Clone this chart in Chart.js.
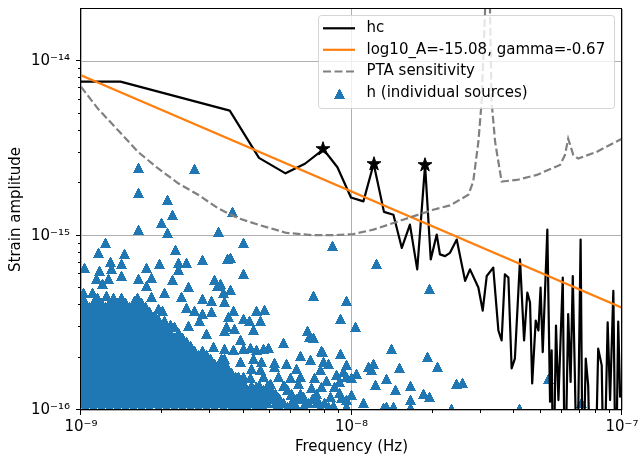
<!DOCTYPE html>
<html>
<head>
<meta charset="utf-8">
<script src="https://cdn.jsdelivr.net/npm/chart.js@4.4.1/dist/chart.umd.min.js"></script>
<style>
  html, body { margin: 0; padding: 0; background: #fff; }
</style>
</head>
<body>
<canvas id="myChart" width="639" height="458"></canvas>
<script>
// all values are log10 (frequency in Hz, strain amplitude)

// characteristic strain hc (black line); -16.5 = empty bin, drawn off the bottom
var hcLogF = [-9.000,-8.854,-8.450,-8.342,-8.244,-8.172,-8.104,-8.052,-8.002,-7.956,
  -7.918,-7.880,-7.845,-7.814,-7.784,-7.757,-7.728,-7.707,-7.685,-7.673,
  -7.654,-7.636,-7.611,-7.580,-7.562,-7.531,-7.515,-7.500,-7.476,-7.457,
  -7.445,-7.433,-7.420,-7.408,-7.396,-7.377,-7.362,-7.350,-7.340,-7.332,
  -7.319,-7.309,-7.301,-7.293,-7.276,-7.266,-7.260,-7.254,-7.244,-7.235,
  -7.219,-7.211,-7.199,-7.190,-7.182,-7.174,-7.166,-7.153,-7.145,-7.134,
  -7.125,-7.116,-7.100,-7.088,-7.075,-7.067,-7.053,-7.044,-7.032,-7.023,
  -7.014,-7.007,-7.000];
var hcLogH = [-14.116,-14.116,-14.282,-14.553,-14.642,-14.587,-14.504,-14.607,-14.781,-14.803,
  -14.587,-14.863,-14.880,-15.070,-14.936,-15.193,-14.595,-15.136,-14.993,-15.107,
  -15.117,-15.098,-15.022,-15.259,-15.193,-15.297,-15.430,-15.231,-15.183,-15.544,
  -15.601,-15.221,-15.240,-15.762,-15.705,-15.136,-15.601,-15.326,-15.383,-15.848,
  -15.487,-15.544,-15.297,-15.668,-14.965,-15.953,-15.658,-16.5,-15.516,-15.943,
  -15.240,-16.5,-15.449,-15.839,-15.231,-15.818,-16.5,-15.022,-16.5,-15.705,
  -15.858,-16.5,-16.5,-15.648,-15.744,-16.5,-15.497,-15.943,-15.316,-16.5,
  -15.493,-15.924,-15.915];

// the three starred bins
var starLogF = [-8.104, -7.918, -7.728];
var starLogH = [-14.504, -14.587, -14.595];

// power law fit, end points
var fitLogF = [-9.0, -7.0];
var fitLogH = [-14.079, -15.413];

// PTA sensitivity curve
var ptaLogF = [-9.000,-8.937,-8.863,-8.789,-8.715,-8.641,-8.567,-8.494,-8.420,-8.346,
  -8.240,-8.141,-8.067,-7.993,-7.919,-7.845,-7.772,-7.698,-7.636,-7.568,
  -7.550,-7.531,-7.519,-7.506,-7.497,-7.488,-7.482,-7.469,-7.445,-7.389,
  -7.315,-7.229,-7.211,-7.199,-7.180,-7.162,-7.094,-7.000];
var ptaLogH = [-14.145,-14.272,-14.395,-14.519,-14.614,-14.699,-14.765,-14.842,-14.899,-14.936,
  -14.984,-14.997,-14.997,-14.990,-14.965,-14.927,-14.889,-14.851,-14.826,-14.765,
  -14.689,-14.462,-14.234,-13.702,-13.300,-13.702,-14.234,-14.462,-14.689,-14.680,
  -14.651,-14.594,-14.537,-14.443,-14.537,-14.557,-14.519,-14.443];

// individual sources, the scattered ones: [log f, log h]
var sourcesLog = [
  [-8.789,-14.614],[-8.579,-14.618],[-8.789,-14.756],[-8.680,-14.795],[-8.660,-14.883],
  [-8.701,-14.927],[-8.440,-14.864],[-8.789,-14.969],[-8.681,-14.983],[-8.490,-14.980],
  [-8.910,-15.043],[-8.400,-15.043],[-8.937,-15.098],[-8.838,-15.104],[-8.651,-15.083],
  [-8.986,-15.183],[-8.890,-15.149],[-8.851,-15.161],[-8.709,-15.161],[-8.641,-15.155],
  [-8.611,-15.155],[-8.549,-15.141],[-8.459,-15.136],[-8.931,-15.202],[-8.888,-15.193],
  [-8.759,-15.183],[-8.641,-15.198],[-8.943,-15.250],[-8.900,-15.250],[-8.851,-15.231],
  [-8.789,-15.250],[-8.740,-15.240],[-8.660,-15.255],[-8.506,-15.255],[-8.919,-15.275],
  [-8.759,-15.288],[-8.604,-15.293],[-8.494,-15.288],[-8.989,-15.326],[-8.956,-15.326],
  [-8.691,-15.326],[-8.475,-15.326],[-8.906,-15.345],[-8.740,-15.350],[-8.629,-15.350],
  [-8.549,-15.364],[-8.518,-15.373],[-8.469,-15.383],[-8.801,-15.373],[-8.715,-15.421],
  [-8.697,-15.430],[-8.611,-15.415],[-8.580,-15.430],[-8.549,-15.449],[-8.518,-15.440],
  [-8.746,-15.487],[-8.691,-15.487],[-8.654,-15.525],[-8.604,-15.516],[-8.561,-15.487],
  [-8.537,-15.563],[-8.641,-15.563],[-8.469,-15.544],[-8.512,-15.639],[-8.469,-15.648],
  [-8.555,-15.696],[-8.481,-15.705],[-8.666,-15.620],[-8.617,-15.630],[-8.449,-15.126],
  [-8.400,-15.218],[-8.486,-15.278],[-8.449,-15.312],[-8.069,-15.060],[-8.141,-15.345],
  [-8.020,-15.373],[-8.437,-15.430],[-8.350,-15.430],[-8.320,-15.426],[-8.040,-15.477],
  [-8.455,-15.468],[-8.400,-15.477],[-8.378,-15.487],[-8.338,-15.491],[-7.987,-15.525],
  [-8.431,-15.534],[-8.461,-15.525],[-8.363,-15.540],[-8.163,-15.544],[-8.156,-15.582],
  [-8.141,-15.586],[-8.410,-15.597],[-8.252,-15.617],[-7.909,-15.164],[-7.712,-15.307],
  [-8.106,-15.668],[-7.851,-15.648],[-7.720,-15.698],[-7.683,-15.755],[-7.821,-15.761],
  [-7.938,-15.753],[-7.919,-15.734],[-7.925,-15.772],[-8.030,-15.782],[-8.018,-15.810],
  [-7.981,-15.791],[-7.870,-15.823],[-7.913,-15.858],[-7.839,-15.883],[-7.781,-15.863],
  [-7.781,-15.940],[-7.735,-15.909],[-7.712,-15.928],[-7.611,-15.848],[-7.589,-15.844],
  [-7.956,-15.962],[-8.043,-15.905],[-8.018,-15.943],[-7.870,-15.981],[-7.845,-15.985],
  [-7.882,-15.990],[-7.781,-15.991],[-7.630,-15.997],[-7.272,-15.823],[-7.149,-15.960],
  [-7.379,-15.994],[-8.086,-15.734],
  [-8.468,-15.648],[-8.437,-15.658],[-8.400,-15.648],[-8.375,-15.643],[-8.350,-15.654],
  [-8.326,-15.648],[-8.308,-15.643],[-8.110,-15.662],[-8.039,-15.677],[-8.468,-15.705],
  [-8.412,-15.725],[-8.363,-15.705],[-8.332,-15.725],[-8.283,-15.730],[-8.240,-15.734],
  [-8.190,-15.692],[-8.153,-15.715],[-8.104,-15.725],[-8.018,-15.744],[-8.369,-15.762],
  [-8.338,-15.772],[-8.283,-15.753],[-8.203,-15.762],[-8.116,-15.772],[-8.055,-15.801],
  [-8.461,-15.791],[-8.418,-15.810],[-8.375,-15.819],[-8.326,-15.810],[-8.271,-15.810],
  [-8.227,-15.819],[-8.190,-15.810],[-8.135,-15.819],[-8.092,-15.833],[-8.043,-15.839],
  [-7.999,-15.819],[-8.449,-15.858],[-8.394,-15.858],[-8.350,-15.867],[-8.301,-15.848],
  [-8.246,-15.863],[-8.197,-15.848],[-8.147,-15.876],[-8.110,-15.867],[-8.061,-15.867],
  [-8.461,-15.915],[-8.412,-15.915],[-8.363,-15.924],[-8.313,-15.915],[-8.271,-15.933],
  [-8.221,-15.915],[-8.178,-15.924],[-8.129,-15.933],[-8.079,-15.924],[-8.036,-15.933],
  [-7.999,-15.915],[-8.437,-15.981],[-8.387,-15.981],[-8.338,-15.977],[-8.277,-15.981],
  [-8.227,-15.985],[-8.178,-15.981],[-8.116,-15.981],[-8.067,-15.977],[-8.018,-15.981]
];

// the solid part of the cloud at low frequency: [log h, [log f ...]]
var sourceRowsLog = [
  [-15.360, [-9.00,-8.94,-8.88,-8.85,-8.79]],
  [-15.385, [-8.985,-8.955,-8.925,-8.895,-8.865,-8.835,-8.805,-8.775]],
  [-15.410, [-9.00,-8.97,-8.94,-8.91,-8.88,-8.85,-8.82,-8.79,-8.76]],
  [-15.435, [-8.985,-8.955,-8.925,-8.895,-8.865,-8.835,-8.805,-8.775,-8.745]],
  [-15.460, [-9.00,-8.97,-8.94,-8.91,-8.88,-8.85,-8.82,-8.79,-8.76,-8.73]],
  [-15.485, [-8.985,-8.955,-8.925,-8.895,-8.865,-8.835,-8.805,-8.775,-8.745,-8.715]],
  [-15.510, [-9.00,-8.97,-8.94,-8.91,-8.88,-8.85,-8.82,-8.79,-8.76,-8.73,-8.70,-8.67]],
  [-15.535, [-8.985,-8.955,-8.925,-8.895,-8.865,-8.835,-8.805,-8.775,-8.745,-8.715,-8.685]],
  [-15.560, [-9.00,-8.97,-8.94,-8.91,-8.88,-8.85,-8.82,-8.79,-8.76,-8.73,-8.70,-8.67,-8.64]],
  [-15.585, [-8.985,-8.955,-8.925,-8.895,-8.865,-8.835,-8.805,-8.775,-8.745,-8.715,-8.685,-8.655,-8.625]],
  [-15.610, [-9.00,-8.97,-8.94,-8.91,-8.88,-8.85,-8.82,-8.79,-8.76,-8.73,-8.70,-8.67,-8.64,-8.61]],
  [-15.635, [-8.985,-8.955,-8.925,-8.895,-8.865,-8.835,-8.805,-8.775,-8.745,-8.715,-8.685,-8.655,-8.625,-8.595]],
  [-15.660, [-9.00,-8.97,-8.94,-8.91,-8.88,-8.85,-8.82,-8.79,-8.76,-8.73,-8.70,-8.67,-8.64,-8.61,-8.58,-8.55]],
  [-15.685, [-8.985,-8.955,-8.925,-8.895,-8.865,-8.835,-8.805,-8.775,-8.745,-8.715,-8.685,-8.655,-8.625,-8.595,-8.565,-8.535]],
  [-15.710, [-9.00,-8.97,-8.94,-8.91,-8.88,-8.85,-8.82,-8.79,-8.76,-8.73,-8.70,-8.67,-8.64,-8.61,-8.58,-8.55,-8.52]],
  [-15.735, [-8.985,-8.955,-8.925,-8.895,-8.865,-8.835,-8.805,-8.775,-8.745,-8.715,-8.685,-8.655,-8.625,-8.595,-8.565,-8.535,-8.505,-8.475]],
  [-15.760, [-9.00,-8.97,-8.94,-8.91,-8.88,-8.85,-8.82,-8.79,-8.76,-8.73,-8.70,-8.67,-8.64,-8.61,-8.58,-8.55,-8.52,-8.49,-8.46]],
  [-15.785, [-8.985,-8.955,-8.925,-8.895,-8.865,-8.835,-8.805,-8.775,-8.745,-8.715,-8.685,-8.655,-8.625,-8.595,-8.565,-8.535,-8.505,-8.475,-8.445]],
  [-15.810, [-9.00,-8.97,-8.94,-8.91,-8.88,-8.85,-8.82,-8.79,-8.76,-8.73,-8.70,-8.67,-8.64,-8.61,-8.58,-8.55,-8.52,-8.49,-8.46,-8.43,-8.40]],
  [-15.835, [-8.985,-8.955,-8.925,-8.895,-8.865,-8.835,-8.805,-8.775,-8.745,-8.715,-8.685,-8.655,-8.625,-8.595,-8.565,-8.535,-8.505,-8.475,-8.445,-8.415]],
  [-15.860, [-9.00,-8.97,-8.94,-8.91,-8.88,-8.85,-8.82,-8.79,-8.76,-8.73,-8.70,-8.67,-8.64,-8.61,-8.58,-8.55,-8.52,-8.49,-8.46,-8.43,-8.40,-8.37,-8.34,-8.31,-8.25]],
  [-15.885, [-8.985,-8.955,-8.925,-8.895,-8.865,-8.835,-8.805,-8.775,-8.745,-8.715,-8.685,-8.655,-8.625,-8.595,-8.565,-8.535,-8.505,-8.475,-8.445,-8.415,-8.385,-8.355,-8.325,-8.295,-8.235]],
  [-15.910, [-9.00,-8.97,-8.94,-8.91,-8.88,-8.85,-8.82,-8.79,-8.76,-8.73,-8.70,-8.67,-8.64,-8.61,-8.58,-8.55,-8.52,-8.49,-8.46,-8.43,-8.40,-8.37,-8.34,-8.31,-8.28,-8.22,-8.19,-8.13]],
  [-15.935, [-8.985,-8.955,-8.925,-8.895,-8.865,-8.835,-8.805,-8.775,-8.745,-8.715,-8.685,-8.655,-8.625,-8.595,-8.565,-8.535,-8.505,-8.475,-8.445,-8.415,-8.385,-8.355,-8.325,-8.295,-8.265,-8.205,-8.175,-8.145]],
  [-15.960, [-9.00,-8.97,-8.94,-8.91,-8.88,-8.85,-8.82,-8.79,-8.76,-8.73,-8.70,-8.67,-8.64,-8.61,-8.58,-8.55,-8.52,-8.49,-8.46,-8.43,-8.40,-8.37,-8.34,-8.31,-8.28,-8.25,-8.22,-8.16,-8.13,-8.10]],
  [-15.985, [-8.985,-8.955,-8.925,-8.895,-8.865,-8.835,-8.805,-8.775,-8.745,-8.715,-8.685,-8.655,-8.625,-8.595,-8.565,-8.535,-8.505,-8.475,-8.445,-8.415,-8.385,-8.355,-8.325,-8.265,-8.235,-8.205,-8.175,-8.115,-8.085]]
];

var xMajorTicks = [1e-9, 1e-8, 1e-7];
var yMajorTicks = [1e-16, 1e-15, 1e-14];
var labels = ['hc', 'log10_A=-15.08, gamma=-0.67', 'PTA sensitivity', 'h (individual sources)'];

var FONT = "'DejaVu Sans', sans-serif";
Chart.defaults.font.family = FONT;
Chart.defaults.font.size = 15;
Chart.defaults.color = '#000';

var toPoints = (lf, lh) => lf.map((f, i) => ({x: Math.pow(10, f), y: Math.pow(10, lh[i])}));
var sourcePoints = sourcesLog.map(p => ({x: Math.pow(10, p[0]), y: Math.pow(10, p[1])}))
  .concat(sourceRowsLog.flatMap(r => r[1].map(f => ({x: Math.pow(10, f), y: Math.pow(10, r[0])}))));

// marker images (matplotlib-like ^ and *); the triangle is pixel-exact so
// overlapping markers merge into a solid area like in the original
function triangleImg() {
  var c = document.createElement('canvas');
  c.width = 11; c.height = 10;
  var g = c.getContext('2d');
  g.fillStyle = '#1f77b4';
  for (var y = 0; y < 10; y++) {
    var w = 2 * Math.floor((y + 1) / 2) + 1;
    g.fillRect((11 - w) / 2, y, w, 1);
  }
  return c;
}
function starImg() {
  var c = document.createElement('canvas');
  c.width = 18; c.height = 18;
  var g = c.getContext('2d');
  var R = 7.3, r = R * 0.382;
  g.beginPath();
  for (var i = 0; i < 10; i++) {
    var a = -Math.PI / 2 + i * Math.PI / 5, rr = i % 2 ? r : R;
    g.lineTo(9 + rr * Math.cos(a), 9 + rr * Math.sin(a));
  }
  g.closePath();
  g.fillStyle = '#000'; g.fill();
  g.lineWidth = 1; g.strokeStyle = '#000'; g.lineJoin = 'miter'; g.stroke();
  return c;
}
var tri = triangleImg();
var star = starImg();

var isPow10 = v => Math.abs(Math.log10(v) - Math.round(Math.log10(v))) < 1e-6;
var SUP = {'-': '\u207B', '0': '\u2070', '1': '\u00B9', '2': '\u00B2', '3': '\u00B3', '4': '\u2074',
  '5': '\u2075', '6': '\u2076', '7': '\u2077', '8': '\u2078', '9': '\u2079'};
var powLabel = v => '10' + String(Math.round(Math.log10(v))).split('').map(ch => SUP[ch]).join('');
function withMinors(majors, max) {
  var out = [];
  majors.forEach(m => { for (var k = 1; k <= 9; k++) { var v = m * k; if (v <= max * 1.0001) out.push({value: v, major: k === 1}); } });
  return out;
}
// keep the plot box fixed: no extra room for half labels at the ends
function noLabelPadding(s) { s.paddingTop = 0; s.paddingBottom = 0; s.paddingLeft = 0; s.paddingRight = 0; }

var gridColor = c => (c.tick && c.tick.major) ? '#b0b0b0' : 'rgba(0,0,0,0)';

// ticks, frame and the legend box drawn over the plot like matplotlib
var decorations = {
  id: 'decorations',
  beforeDatasetsDraw(chart) { chart.ctx.imageSmoothingEnabled = false; },
  afterDatasetsDraw(chart) {
    var ctx = chart.ctx, a = chart.chartArea, sx = chart.scales.x, sy = chart.scales.y;
    ctx.imageSmoothingEnabled = true;
    ctx.save();
    ctx.strokeStyle = '#000';
    ctx.lineWidth = 1;
    sx.ticks.forEach(t => {
      var px = Math.round(sx.getPixelForValue(t.value)) - 0.5;
      ctx.beginPath(); ctx.moveTo(px, a.bottom); ctx.lineTo(px, a.bottom + (t.major ? 5 : 3)); ctx.stroke();
    });
    sy.ticks.forEach(t => {
      var py = Math.round(sy.getPixelForValue(t.value)) - 0.5;
      if (py < a.top) return;
      ctx.beginPath(); ctx.moveTo(a.left, py); ctx.lineTo(a.left - (t.major ? 5 : 3), py); ctx.stroke();
    });
    ctx.strokeRect(a.left - 0.5, a.top - 0.5, a.right - a.left, a.bottom - a.top);

    // legend
    var L = 318.5, T = 15.5, W = 296, H = 93;
    ctx.beginPath();
    ctx.roundRect(L, T, W, H, 3);
    ctx.fillStyle = 'rgba(255,255,255,0.8)';
    ctx.fill();
    ctx.strokeStyle = 'rgba(204,204,204,0.8)';
    ctx.lineWidth = 1;
    ctx.stroke();
    var rows = [28.3, 49.8, 71.5, 93.3];
    var x0 = 323, x1 = 355;
    ctx.lineWidth = 2.2;
    ctx.lineCap = 'butt';
    ctx.strokeStyle = '#000';
    ctx.beginPath(); ctx.moveTo(x0, rows[0]); ctx.lineTo(x1, rows[0]); ctx.stroke();
    ctx.strokeStyle = '#ff7f0e';
    ctx.beginPath(); ctx.moveTo(x0, rows[1]); ctx.lineTo(x1, rows[1]); ctx.stroke();
    ctx.strokeStyle = '#808080';
    ctx.setLineDash([8, 3.5]);
    ctx.beginPath(); ctx.moveTo(x0, rows[2]); ctx.lineTo(x1 + 1, rows[2]); ctx.stroke();
    ctx.setLineDash([]);
    ctx.drawImage(tri, 334, 89);
    ctx.fillStyle = '#000';
    ctx.font = '15px ' + FONT;
    ctx.textBaseline = 'middle';
    ctx.textAlign = 'left';
    labels.forEach((s, i) => ctx.fillText(s, 366.5, rows[i]));
    ctx.restore();
  }
};

var ctx = document.getElementById('myChart');
var myChart = new Chart(ctx, {
  type: 'scatter',
  data: {
    datasets: [
      { label: 'stars', data: toPoints(starLogF, starLogH), pointStyle: star, pointRadius: 8, showLine: false, clip: 0 },
      { label: labels[2], data: toPoints(ptaLogF, ptaLogH), showLine: true, pointRadius: 0,
        borderColor: '#808080', borderWidth: 2.2, borderDash: [7.7, 3.3], clip: 0 },
      { label: labels[1], data: toPoints(fitLogF, fitLogH), showLine: true, pointRadius: 0,
        borderColor: '#ff7f0e', borderWidth: 2.2, clip: 0 },
      { label: labels[0], data: toPoints(hcLogF, hcLogH), showLine: true, pointRadius: 0,
        borderColor: '#000', borderWidth: 2.2, borderJoinStyle: 'round', clip: 0 },
      { label: labels[3], data: sourcePoints, pointStyle: tri, pointRadius: 5, pointBorderWidth: 0, showLine: false, clip: 0 }
    ]
  },
  options: {
    responsive: false,
    animation: false,
    devicePixelRatio: 1,
    events: [],
    layout: { padding: { top: 6, right: 17, left: 0, bottom: 0 } },
    plugins: { legend: { display: false }, tooltip: { enabled: false } },
    scales: {
      x: {
        type: 'logarithmic', min: 1e-9, max: 1e-7,
        afterBuildTicks: s => { s.ticks = withMinors(xMajorTicks, 1e-7); },
        afterFit: s => { s.height = 48; noLabelPadding(s); },
        grid: { color: gridColor, lineWidth: 1, drawTicks: false },
        border: { display: false },
        ticks: { autoSkip: false, maxRotation: 0, padding: 8, font: { size: 15 },
          callback: v => isPow10(v) ? powLabel(v) : '' },
        title: { display: true, text: 'Frequency (Hz)', font: { size: 15 }, padding: { top: 0, bottom: 2 } }
      },
      y: {
        type: 'logarithmic', min: 1e-16, max: 2e-14,
        afterBuildTicks: s => { s.ticks = withMinors(yMajorTicks, 2e-14); },
        afterFit: s => { s.width = 81; noLabelPadding(s); },
        grid: { color: gridColor, lineWidth: 1, drawTicks: false },
        border: { display: false },
        ticks: { autoSkip: false, padding: 11, font: { size: 15 },
          callback: v => isPow10(v) ? powLabel(v) : '' },
        title: { display: true, text: 'Strain amplitude', font: { size: 15 }, padding: { top: 7, bottom: 0 } }
      }
    }
  },
  plugins: [decorations]
});
</script>
</body>
</html>
